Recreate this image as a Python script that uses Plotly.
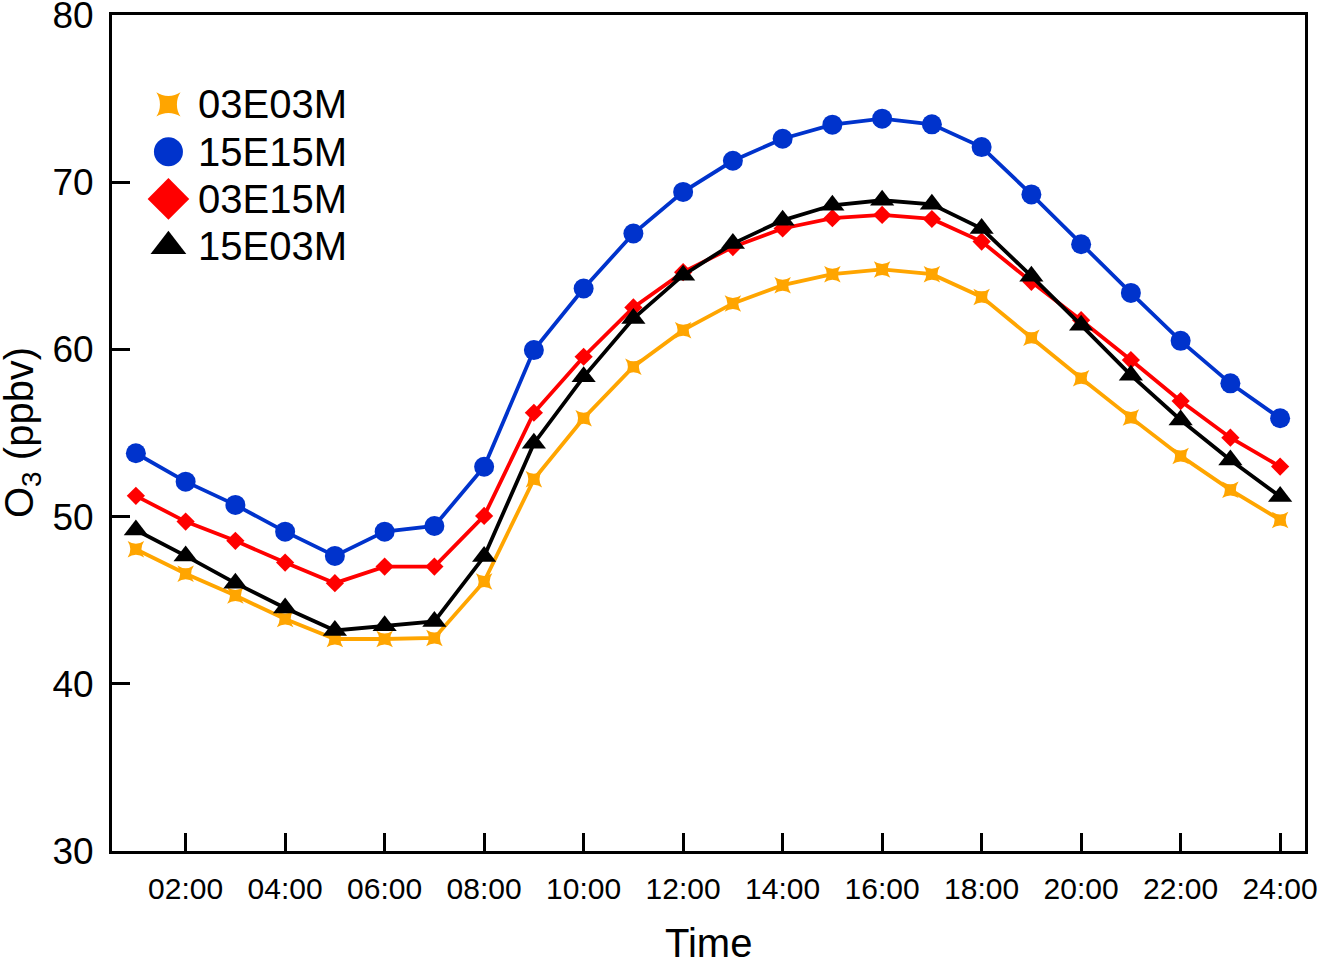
import plotly.graph_objects as go

hours = list(range(1, 25))
tick_vals = [2, 4, 6, 8, 10, 12, 14, 16, 18, 20, 22, 24]
tick_text = ["02:00", "04:00", "06:00", "08:00", "10:00", "12:00",
             "14:00", "16:00", "18:00", "20:00", "22:00", "24:00"]

o3_03E03M = [48.05, 46.58, 45.28, 43.87, 42.68, 42.68, 42.74, 46.12, 52.23, 55.88,
             58.96, 61.15, 62.75, 63.84, 64.50, 64.78, 64.50, 63.14, 60.70, 58.27,
             55.92, 53.63, 51.60, 49.80]
o3_15E15M = [53.79, 52.09, 50.70, 49.10, 47.65, 49.10, 49.44, 52.98, 59.96, 63.64,
             66.93, 69.42, 71.28, 72.60, 73.44, 73.80, 73.46, 72.10, 69.27, 66.29,
             63.38, 60.51, 57.97, 55.88]
o3_03E15M = [51.24, 49.70, 48.55, 47.25, 46.02, 47.01, 47.01, 50.04, 56.21, 59.56,
             62.51, 64.62, 66.12, 67.23, 67.85, 68.04, 67.80, 66.45, 64.04, 61.75,
             59.36, 56.91, 54.72, 52.99]
o3_15E03M = [49.20, 47.65, 46.02, 44.53, 43.19, 43.47, 43.73, 47.61, 54.38, 58.36,
             61.85, 64.44, 66.33, 67.72, 68.62, 68.92, 68.68, 67.23, 64.38, 61.45,
             58.46, 55.78, 53.39, 51.20]

series_names = ["03E03M", "15E15M", "03E15M", "15E03M"]
series_vals = [o3_03E03M, o3_15E15M, o3_03E15M, o3_15E03M]
colors = ["#FFA500", "#0033CC", "#FF0000", "#000000"]
symbols = ["star-square", "circle", "diamond", "triangle-up"]
plot_sizes = [15, 20, 14, 21]
legend_sizes = [22, 29, 32, 31]

x_title = "Time"
y_title = "O<sub>3</sub> (ppbv)"

FONT = "Liberation Sans, Arial, sans-serif"

fig = go.Figure()
for name, vals, c, s, ms in zip(series_names, series_vals, colors, symbols, plot_sizes):
    fig.add_trace(go.Scatter(
        x=hours, y=vals, mode="lines+markers", name=name,
        line=dict(color=c, width=3.8),
        marker=dict(symbol=s, size=ms, color=c, line=dict(width=0)),
        showlegend=False, cliponaxis=False,
    ))

# manual legend (large symbols) on an overlay axis spanning [0,1]
leg_x_marker = 0.0473
leg_x_text = 0.0700
leg_y0 = 0.893
leg_step = 0.0565
for i, (name, c, s, ls) in enumerate(zip(series_names, colors, symbols, legend_sizes)):
    yy = leg_y0 - i * leg_step
    fig.add_trace(go.Scatter(
        x=[leg_x_marker], y=[yy], xaxis="x2", yaxis="y2", mode="markers",
        marker=dict(symbol=s, size=ls, color=c, line=dict(width=0)),
        showlegend=False, hoverinfo="skip",
    ))
    fig.add_annotation(
        x=leg_x_text, y=yy, xref="x2", yref="y2", text=name, showarrow=False,
        xanchor="left", yanchor="middle",
        font=dict(family=FONT, size=40, color="black"),
    )

# axis titles as annotations (placed in the margins)
fig.add_annotation(
    x=0.5, y=0, xref="paper", yref="paper", text=x_title, showarrow=False,
    xanchor="center", yanchor="middle", yshift=-92,
    font=dict(family=FONT, size=40, color="black"),
)
fig.add_annotation(
    x=0, y=0.5, xref="paper", yref="paper", text=y_title, showarrow=False,
    textangle=-90, xanchor="center", yanchor="middle", xshift=-90,
    font=dict(family=FONT, size=40, color="black"),
)

fig.update_layout(
    width=1318, height=959,
    margin=dict(l=112, r=13, t=15, b=108, autoexpand=False),
    paper_bgcolor="white", plot_bgcolor="white",
    font=dict(family=FONT, color="black"),
    showlegend=False,
    xaxis=dict(
        range=[0.52, 24.5], tickmode="array", tickvals=tick_vals, ticktext=tick_text,
        ticks="inside", ticklen=18, tickwidth=3, tickcolor="black",
        showline=True, linewidth=3, linecolor="black", mirror=True,
        showgrid=False, zeroline=False,
        tickfont=dict(family=FONT, size=30, color="black"),
        ticklabelstandoff=9, ticklabeloverflow="allow",
    ),
    yaxis=dict(
        range=[30, 80], tickmode="linear", tick0=30, dtick=10,
        ticks="inside", ticklen=18, tickwidth=3, tickcolor="black",
        showline=True, linewidth=3, linecolor="black", mirror=True,
        showgrid=False, zeroline=False,
        tickfont=dict(family=FONT, size=37, color="black"),
        ticklabelstandoff=8, ticklabeloverflow="allow",
    ),
    xaxis2=dict(overlaying="x", range=[0, 1], visible=False, fixedrange=True),
    yaxis2=dict(overlaying="y", range=[0, 1], visible=False, fixedrange=True),
)

fig.write_html("out.html", config={"displayModeBar": False},
               post_script="document.body.style.margin='0';document.body.style.overflow='hidden';")
